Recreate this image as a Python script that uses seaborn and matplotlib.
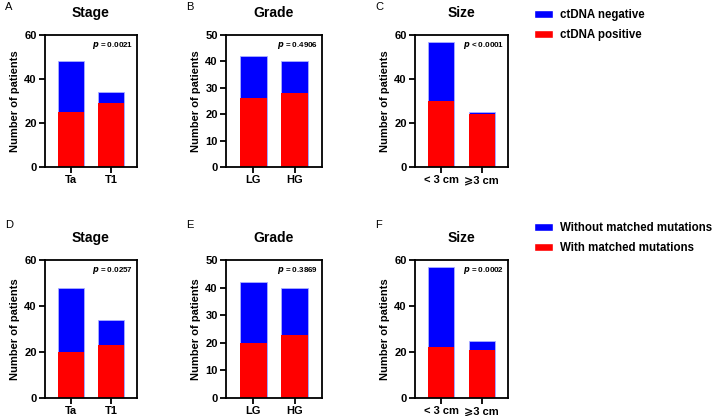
import matplotlib
matplotlib.use('Agg')
import matplotlib.pyplot as plt
from matplotlib.patches import Patch
import pandas as pd
import seaborn as sns

# data
stage_cats = ['Ta', 'T1']
grade_cats = ['LG', 'HG']
size_cats = ['< 3 cm', '\u2a7e3 cm']

# top row: ctDNA
ct_stage_total = [48, 34]
ct_stage_pos = [25, 29]
ct_grade_total = [42, 40]
ct_grade_pos = [26, 28]
ct_size_total = [57, 25]
ct_size_pos = [30, 24]
ct_pvals = ['0.0021', '0.4906', '< 0.0001']

# bottom row: matched mutations
mm_stage_total = [48, 34]
mm_stage_pos = [20, 23]
mm_grade_total = [42, 40]
mm_grade_pos = [20, 23]
mm_size_total = [57, 25]
mm_size_pos = [22, 21]
mm_pvals = ['0.0257', '0.3869', '0.0002']

titles = ['Stage', 'Grade', 'Size']
ymax = [60, 50, 60]
yticks = [[0, 20, 40, 60], [0, 10, 20, 30, 40, 50], [0, 20, 40, 60]]
letters = [['A', 'B', 'C'], ['D', 'E', 'F']]
legend_labels = [['ctDNA negative', 'ctDNA positive'],
                 ['Without matched mutations', 'With matched mutations']]

BLUE = '#0000ff'
RED = '#ff0000'

sns.set_style('white')
plt.rcParams['font.family'] = ['Liberation Sans', 'DejaVu Sans']
plt.rcParams['font.weight'] = 'bold'
plt.rcParams['text.color'] = 'black'
plt.rcParams['axes.labelcolor'] = 'black'
plt.rcParams['xtick.color'] = 'black'
plt.rcParams['ytick.color'] = 'black'

W, H = 718, 416
fig = plt.figure(figsize=(W / 100, H / 100), dpi=100)

lefts = [45, 226, 415]
widths = [92, 96, 93]
rows = [(35, 167), (260, 398)]
letter_y = [7, 225]

rows_data = [
    [(stage_cats, ct_stage_total, ct_stage_pos),
     (grade_cats, ct_grade_total, ct_grade_pos),
     (size_cats, ct_size_total, ct_size_pos)],
    [(stage_cats, mm_stage_total, mm_stage_pos),
     (grade_cats, mm_grade_total, mm_grade_pos),
     (size_cats, mm_size_total, mm_size_pos)],
]
pvals = [ct_pvals, mm_pvals]

for r, (top, bot) in enumerate(rows):
    for c in range(3):
        cats, total, pos = rows_data[r][c]
        ax = fig.add_axes([lefts[c] / W, (H - bot) / H, widths[c] / W, (bot - top) / H])
        df = pd.DataFrame({'cat': cats, 'total': total, 'pos': pos})
        sns.barplot(data=df, x='cat', y='total', color=BLUE, saturation=1,
                    width=0.65, ax=ax, edgecolor='#aab0ff', linewidth=0.6)
        sns.barplot(data=df, x='cat', y='pos', color=RED, saturation=1,
                    width=0.65, ax=ax, linewidth=0)
        ax.set_xlim(-0.65, 1.65)
        ax.set_ylim(0, ymax[c])
        ax.set_yticks(yticks[c])
        ax.set_xlabel('')
        ax.set_ylabel('Number of patients', fontsize=8, fontweight='bold', labelpad=3)
        ax.set_title(titles[c], fontsize=10, fontweight='bold', pad=13)
        for s in ax.spines.values():
            s.set_visible(True)
            s.set_linewidth(1.3)
            s.set_color('black')
        ax.tick_params(axis='both', direction='out', length=4, width=1.3,
                       labelsize=8, pad=2, left=True, bottom=True)
        for lab in ax.get_xticklabels() + ax.get_yticklabels():
            lab.set_fontweight('bold')
        ax.text(0.96, 0.965, '$\\mathbfit{p}$ ' + ('' if pvals[r][c].startswith('<') else '= ') + pvals[r][c],
                transform=ax.transAxes, ha='right', va='top', fontsize=5.8, fontweight='bold')
        fig.text((lefts[c] - 40) / W, 1 - letter_y[r] / H, letters[r][c],
                 fontsize=8, fontweight='normal', ha='left', va='center')

    handles = [Patch(facecolor=BLUE, label=legend_labels[r][0]),
               Patch(facecolor=RED, label=legend_labels[r][1])]
    ly = [25, 238][r]
    fig.legend(handles=handles, loc='center left',
               bbox_to_anchor=(524 / W, 1 - ly / H), frameon=False,
               prop={'size': 8.3, 'weight': 'bold'}, handlelength=1.6,
               handleheight=0.8, handletextpad=0.6, labelspacing=0.7)

fig.savefig('out.png', dpi=100)
